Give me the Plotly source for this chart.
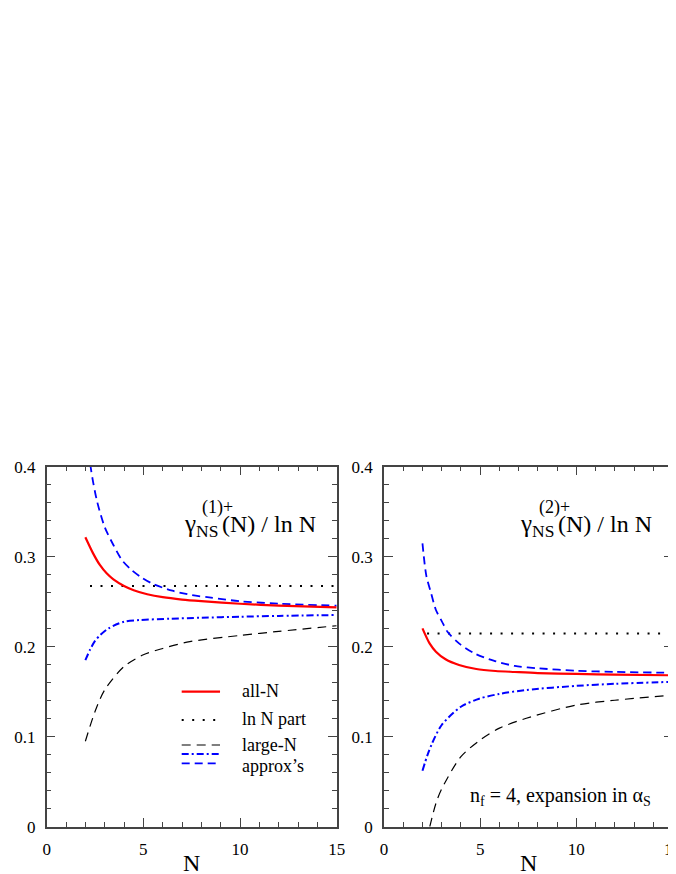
import plotly.graph_objects as go

W, H = 676, 874
FONT = "Liberation Serif, Times New Roman, serif"

# ---------------- data ----------------
# left panel: gamma_NS^(1)+ (N) / ln N
p1_allN_x = [2, 2.4, 2.75, 3.1, 3.45, 4, 4.5, 5.2, 6, 7, 8, 10, 12, 15]
p1_allN = [0.3216, 0.3037, 0.2908, 0.2815, 0.2748, 0.2675, 0.2628, 0.2583, 0.2550, 0.2524, 0.2506, 0.2477, 0.2457, 0.2437]
p1_dash_x = [2, 2.27, 2.6, 3, 3.45, 3.9, 4.4, 4.9, 5.5, 6.5, 7.5, 8.5, 10, 12, 15]
p1_dash = [0.46, 0.40, 0.362, 0.333, 0.313, 0.296, 0.285, 0.277, 0.2697, 0.2622, 0.2574, 0.2545, 0.2505, 0.2478, 0.2456]
p1_dashdot_x = [2, 2.25, 2.5, 2.75, 3.2, 4, 4.8, 6.4, 8, 10, 12, 15]
p1_dashdot = [0.185, 0.197, 0.2065, 0.2125, 0.2204, 0.2278, 0.2296, 0.2311, 0.2322, 0.2333, 0.2342, 0.2352]
p1_largeN_x = [2, 2.5, 3, 4, 5, 6, 7.4, 10, 12, 15]
p1_largeN = [0.095, 0.128, 0.152, 0.178, 0.191, 0.198, 0.2056, 0.2125, 0.217, 0.2233]
p1_lnN_x = [2.24, 15]
p1_lnN = [0.2674, 0.2674]

# right panel: gamma_NS^(2)+ (N) / ln N
p2_allN_x = [2, 2.37, 2.7, 3.2, 3.9, 4.8, 5.8, 6.8, 8, 10, 12, 15]
p2_allN = [0.2204, 0.2037, 0.1945, 0.1860, 0.1797, 0.1752, 0.1730, 0.1719, 0.1707, 0.1697, 0.1690, 0.1682]
p2_dash_x = [2, 2.2, 2.45, 2.7, 3, 3.3, 3.9, 4.7, 5.7, 6.8, 8, 10, 12, 15]
p2_dash = [0.3148, 0.2790, 0.2593, 0.2408, 0.2285, 0.2167, 0.2037, 0.1926, 0.1845, 0.1786, 0.1760, 0.1733, 0.1720, 0.1710]
p2_dashdot_x = [2, 2.25, 2.5, 3, 4, 5, 6, 7.4, 10, 12, 15]
p2_dashdot = [0.0622, 0.0790, 0.0926, 0.1130, 0.1333, 0.1426, 0.1475, 0.1519, 0.1565, 0.1588, 0.1610]
p2_largeN_x = [2.38, 2.7, 3, 4, 5, 6, 7.4, 10, 12, 15]
p2_largeN = [0.0, 0.026, 0.042, 0.0778, 0.0963, 0.1095, 0.1205, 0.1352, 0.1405, 0.1463]
p2_lnN_x = [2.24, 15]
p2_lnN = [0.2148, 0.2148]

x_ticks = [0, 5, 10, 15]
y_ticks = [0, 0.1, 0.2, 0.3, 0.4]
y_tick_text = ["0", "0.1", "0.2", "0.3", "0.4"]

# ---------------- styles ----------------
RED = "#ff0000"
BLUE = "#0000ff"
style_allN = dict(color=RED, width=2.2)
style_lnN = dict(color="black", width=2, dash="2px,8.5px")
style_large = dict(color="black", width=1.2, dash="9px,6px")
style_dashdot = dict(color=BLUE, width=2, dash="7px,3px,2px,3px")
style_dash = dict(color=BLUE, width=1.8, dash="8px,5px")

fig = go.Figure()

def add_line(xa, ya, x, y, st, shape="spline"):
    fig.add_trace(go.Scatter(x=x, y=y, mode="lines", line=dict(st, shape=shape, smoothing=0.8),
                             xaxis=xa, yaxis=ya, showlegend=False, hoverinfo="skip"))

add_line("x", "y", p1_largeN_x, p1_largeN, style_large)
add_line("x", "y", p1_lnN_x, p1_lnN, style_lnN, "linear")
add_line("x", "y", p1_dashdot_x, p1_dashdot, style_dashdot)
add_line("x", "y", p1_dash_x, p1_dash, style_dash)
add_line("x", "y", p1_allN_x, p1_allN, style_allN)

add_line("x2", "y2", p2_largeN_x, p2_largeN, style_large)
add_line("x2", "y2", p2_lnN_x, p2_lnN, style_lnN, "linear")
add_line("x2", "y2", p2_dashdot_x, p2_dashdot, style_dashdot)
add_line("x2", "y2", p2_dash_x, p2_dash, style_dash)
add_line("x2", "y2", p2_allN_x, p2_allN, style_allN)

AX = "#444444"
def xaxis(domain, anchor):
    return dict(domain=domain, anchor=anchor, range=[0, 15], tickvals=x_ticks,
                ticks="inside", ticklen=9, tickwidth=1.4, tickcolor=AX,
                showline=True, linecolor=AX, linewidth=1.5, mirror="allticks",
                showgrid=False, zeroline=False, automargin=False,
                minor=dict(dtick=1, ticks="inside", ticklen=5, tickwidth=1.2, tickcolor=AX, showgrid=False),
                tickfont=dict(family=FONT, size=17, color="black"), ticklabelstandoff=6)

def yaxis(domain, anchor):
    return dict(domain=domain, anchor=anchor, range=[0, 0.4], tickvals=y_ticks, ticktext=y_tick_text,
                ticks="inside", ticklen=9, tickwidth=1.4, tickcolor=AX,
                showline=True, linecolor=AX, linewidth=1.5, mirror="allticks",
                showgrid=False, zeroline=False, automargin=False,
                minor=dict(dtick=0.02, ticks="inside", ticklen=5, tickwidth=1.2, tickcolor=AX, showgrid=False),
                tickfont=dict(family=FONT, size=17, color="black"), ticklabelstandoff=6)

# page has an 8px body margin: screen px = paper px + 8
OFF = 8
ydom = [(H - (826.7 - OFF)) / H, (H - (466.7 - OFF)) / H]
fig.update_layout(
    width=W, height=H, margin=dict(l=0, r=0, t=0, b=0),
    paper_bgcolor="white", plot_bgcolor="white",
    xaxis=xaxis([(46.7 - OFF) / W, (336.7 - OFF) / W], "y"),
    yaxis=yaxis(ydom, "x"),
    xaxis2=xaxis([(384 - OFF) / W, (672.5 - OFF) / W], "y2"),
    yaxis2=yaxis(ydom, "x2"),
    showlegend=False,
)

ann = []
def txt(xref, yref, x, y, text, size, xanchor="left", yanchor="middle"):
    ann.append(dict(xref=xref, yref=yref, x=x, y=y, text=text, showarrow=False,
                    xanchor=xanchor, yanchor=yanchor,
                    font=dict(family=FONT, size=size, color="black")))

for (xr, yr, sup) in [("x domain", "y domain", "(1)+"), ("x2 domain", "y2 domain", "(2)+")]:
    txt(xr, yr, 0.466, 0.836, "γ<sub>NS</sub>", 25)
    txt(xr, yr, 0.530, 0.888, sup, 18)
    txt(xr, yr, 0.935, 0.842, "(N) / ln N", 24, xanchor="right")
    txt(xr, yr, 0.5, -0.102, "N", 24, xanchor="center")

txt("x2 domain", "y2 domain", 0.932, 0.085, "n<sub>f</sub> = 4, expansion in α<sub>S</sub>", 20, xanchor="right")

# legend (left panel)
leg_x0, leg_x1, leg_tx = 0.4655, 0.5977, 0.667
txt("x domain", "y domain", leg_tx, 0.378, "all-N", 18)
txt("x domain", "y domain", leg_tx, 0.298, "ln N part", 18)
txt("x domain", "y domain", leg_tx, 0.226, "large-N", 18)
txt("x domain", "y domain", leg_tx, 0.170, "approx’s", 18)
fig.update_layout(annotations=ann)

shapes = []
for yv, st in [(0.375, style_allN), (0.2964, style_lnN), (0.2269, style_large),
               (0.2019, style_dashdot), (0.176, style_dash)]:
    shapes.append(dict(type="line", xref="x domain", yref="y domain",
                       x0=leg_x0, x1=leg_x1, y0=yv, y1=yv, line=st))
fig.update_layout(shapes=shapes)

fig.write_html("out.html")
